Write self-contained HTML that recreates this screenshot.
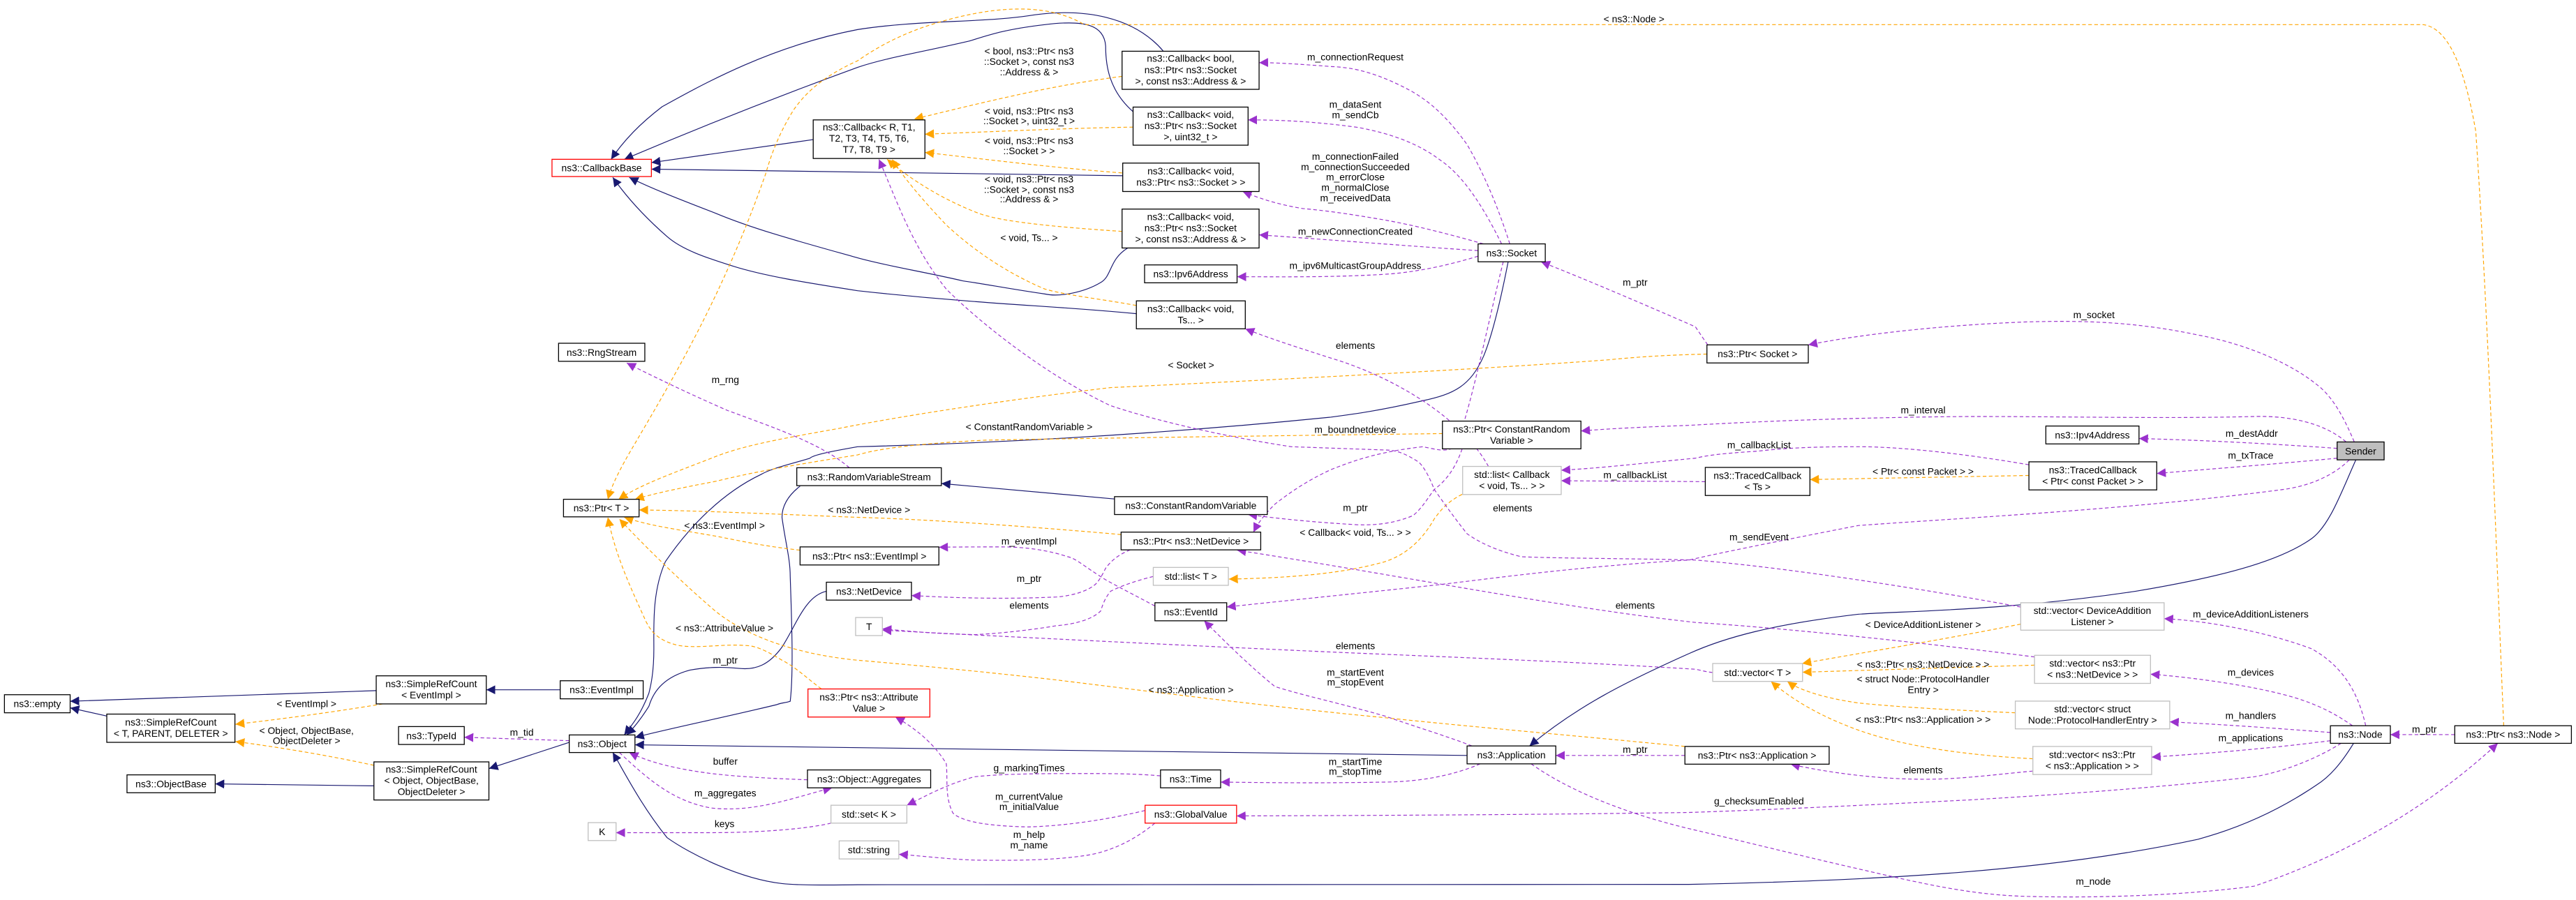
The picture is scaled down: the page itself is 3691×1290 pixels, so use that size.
<!DOCTYPE html>
<html><head><meta charset="utf-8"><style>
html,body{margin:0;padding:0;background:#fff}
svg{display:block}
text{font-family:"Liberation Sans",sans-serif;font-size:5.9px;fill:#000;text-anchor:middle}
.n{fill:#fff;stroke:#000;stroke-width:.55}
.g{fill:#fff;stroke:#bfbfbf;stroke-width:.55}
.r{fill:#fff;stroke:#f00;stroke-width:.55}
.s{fill:#bfbfbf;stroke:#000;stroke-width:.55}
.i{fill:none;stroke:#191970;stroke-width:.5}
.u{fill:none;stroke:#9a32cd;stroke-width:.5;stroke-dasharray:2.2 1.5}
.t{fill:none;stroke:#ffa500;stroke-width:.5;stroke-dasharray:2.2 1.5}
</style></head><body>
<svg width="3691" height="1290" viewBox="0 0 1568 548" preserveAspectRatio="none" xmlns="http://www.w3.org/2000/svg">
<defs>
<marker id="mi" viewBox="0 0 10 10" refX="10" refY="5" markerWidth="5.5" markerHeight="5.5" markerUnits="userSpaceOnUse" orient="auto"><path d="M0,0L10,5L0,10z" fill="#191970"/></marker>
<marker id="mu" viewBox="0 0 10 10" refX="10" refY="5" markerWidth="5.5" markerHeight="5.5" markerUnits="userSpaceOnUse" orient="auto"><path d="M0,0L10,5L0,10z" fill="#9a32cd"/></marker>
<marker id="mt" viewBox="0 0 10 10" refX="10" refY="5" markerWidth="5.5" markerHeight="5.5" markerUnits="userSpaceOnUse" orient="auto"><path d="M0,0L10,5L0,10z" fill="#ffa500"/></marker>
</defs>

<g marker-end="url(#mi)">
<path class="i" d="M495,85 L396.5,99"/>
<path class="i" d="M708,31 C690,10 660,5 630,9 C600,14 560,12 522,18 C470,28 430,50 403,65 C390,75 380,85 372,97"/>
<path class="i" d="M689.7,68 C675,55 673,40 673,28 C672,15 660,12 636,15 C610,18 600,22 590,25 C560,32 540,35 522,41 C470,60 420,80 380,97"/>
<path class="i" d="M683.4,107 L396.5,103"/>
<path class="i" d="M686.4,151 C675,158 677,168 670,172 C660,178 645,181 636,179 C615,176 600,173 586,171 C560,165 540,162 522,157 C490,148 460,140 436,130 C410,120 395,114 383,108"/>
<path class="i" d="M691.7,191 C650,187 620,186 586,183 C560,181 540,179 522,177 C490,172 465,168 446,162 C430,157 415,152 406,144 C390,130 380,118 373,108"/>
<path class="i" d="M918,159.4 C913,185 908,205 903,217 C895,235 885,240 866,244 C840,250 825,252 810,254 C700,265 600,270 522,272 C505,275 495,277 493,279 C480,283 470,285 463,289 C440,300 420,320 405,342 C397,360 398,380 398,395 C398,410 396,418 395,422 C390,435 385,441 380,447.5"/>
<path class="i" d="M487,296 C478,303 476,310 476,315 C478,330 481,340 481,351 C482,380 483,410 481,427 C478,428 475,428 473,429 C440,437 410,443 386.5,449"/>
<path class="i" d="M503,360 C490,363 485,380 476,394 C468,405 460,408 450,407 C440,406 432,406 420,408 C405,412 398,420 395,430 C390,438 386,443 381.5,447.5"/>
<path class="i" d="M341,420 L296,420"/>
<path class="i" d="M229,420.5 L42.7,427"/>
<path class="i" d="M65,436 L42.7,431"/>
<path class="i" d="M346.5,452 L297.6,468"/>
<path class="i" d="M227.6,478.5 L131,477.3"/>
<path class="i" d="M893,460 L386.5,453.5"/>
<path class="i" d="M1432.6,452.6 C1425,465 1418,473 1410,478 C1385,495 1360,505 1338,511 C1250,530 1150,536 1028,538.5 L522,538.7 C500,539 485,539 476,538 C450,535 420,520 406,510 C390,490 380,470 373,458.2"/>
<path class="i" d="M1434,280 C1425,300 1418,320 1407,328 C1390,340 1360,350 1300,360 C1220,372 1160,372 1131,374 C1080,380 1050,388 1028,398 C990,415 960,430 931,454.2"/>
<path class="i" d="M678.4,303.8 L573,294.4"/>
</g>

<g marker-end="url(#mt)">
<path class="t" d="M683,46.5 C640,52 600,62 556.5,72.5"/>
<path class="t" d="M689.7,77.4 C650,78 610,80 563,81.7"/>
<path class="t" d="M683,105.3 C640,102 600,97 563,92.8"/>
<path class="t" d="M683,140.9 C640,138 610,135 596,130 C575,122 555,110 540,97"/>
<path class="t" d="M691.7,186 C670,182 650,180 636,176 C610,165 590,150 576,137 C560,120 550,108 543,97"/>
<path class="t" d="M1524,441.9 C1520,350 1515,200 1507,80 C1500,40 1490,17 1475,15 L660,15 C640,3 610,2 570,14 C550,20 535,28 522,37 C500,47 490,57 483,67 C475,80 470,92 466,106 C440,180 410,230 383,276 C375,290 372,297 370,304"/>
<path class="t" d="M1039,215.6 C1020,216 1000,217 980,219 C900,225 760,232 676,236 C600,245 540,255 510,261 C470,268 450,272 433,279 C410,288 390,295 376.5,304"/>
<path class="t" d="M878,264 C800,265 650,267 600,268 C560,270 535,273 522,277 C490,282 460,287 436,293 C415,297 400,300 386.5,304"/>
<path class="t" d="M682.4,325.5 C620,320 560,316 522,315 C470,313 430,311 389,310.5"/>
<path class="t" d="M487,335 C460,332 445,328 433,326 C410,322 395,320 380,315"/>
<path class="t" d="M500,419.5 C490,412 484,406 476,402 C466,396 460,393 453,393 C440,392 425,395 413,393 C400,390 396,384 393,378 C385,360 375,340 370,315"/>
<path class="t" d="M1025.6,454.5 C960,448 900,443 843,437 C770,430 700,421 643,414 C590,408 545,404 522,402 C480,398 450,385 433,370 C410,350 390,330 377,316"/>
<path class="t" d="M233,428.6 C200,434 170,438 143.3,441"/>
<path class="t" d="M227.6,466 C200,460 170,455 143.3,451.5"/>
<path class="t" d="M890,301 C880,306 876,312 873,316 C865,330 855,338 843,342 C815,350 780,352 748,352.6"/>
<path class="t" d="M1235,289.5 L1101.7,292"/>
<path class="t" d="M1230,380 C1180,390 1130,398 1097,404"/>
<path class="t" d="M1238.4,405 L1097.2,409.3"/>
<path class="t" d="M1226.7,434 C1180,432 1150,430 1131,428 C1110,425 1095,420 1088,415"/>
<path class="t" d="M1237.4,462 C1200,460 1160,455 1131,444.5 C1105,435 1090,425 1078,415"/>
</g>

<g marker-end="url(#mu)">
<path class="u" d="M919,148.5 C910,120 900,100 893,88 C880,70 870,62 860,56 C840,45 825,41 810,40.5 C790,39 775,38 766.4,38.2"/>
<path class="u" d="M914,148.5 C900,120 888,105 876,97 C860,85 840,80 826,77.5 C800,74 780,73 759.7,73"/>
<path class="u" d="M903,148.5 C880,142 860,137 843,134 C820,130 805,128 793,127 C775,124 765,120 756.4,116.6"/>
<path class="u" d="M899.7,152.6 C860,150 810,146 766.4,143"/>
<path class="u" d="M899.7,156 C880,162 860,166 843,167 C810,169 780,168.5 753,168.5"/>
<path class="u" d="M915,159.4 C905,200 895,250 886,272 C880,276 872,273 866,272 C840,275 825,280 810,286 C795,293 785,300 776,307 C770,313 766,318 763,324"/>
<path class="u" d="M1039.5,210 C1036,205 1034,202 1032,199 C1000,185 965,170 938,159.4"/>
<path class="u" d="M906,284 C890,255 850,230 810,218 C785,210 770,205 758,200.2"/>
<path class="u" d="M1230,369.6 C1150,355 1080,345 1032,341 C990,340 950,340 926,339 C910,335 900,330 893,325 C885,315 878,305 873,298 C870,290 866,283 863,281 C855,276 850,274 843,274 L786,272 C740,265 700,255 676,247 C640,230 600,200 576,176 C555,150 545,120 535,97"/>
<path class="u" d="M1238.4,400 C1160,390 1080,382 1032,379 C950,370 850,350 753,335"/>
<path class="u" d="M1433,269 C1425,250 1418,240 1410,234 C1390,218 1360,208 1338,204 C1300,196 1270,195 1234,196 C1180,198 1130,204 1100.7,210"/>
<path class="u" d="M1428,269 C1415,258 1395,253 1372,253.6 C1320,255 1260,253.6 1200,253.6 C1140,254 1080,256 1028,259 C1000,260 980,261 962.3,262.4"/>
<path class="u" d="M1422.6,273 C1380,270 1340,268 1302,267"/>
<path class="u" d="M1422.6,279 C1380,283 1340,286 1312.8,288.3"/>
<path class="u" d="M1235,283 C1200,277 1160,272 1131,272 C1100,272 1085,273 1070,274.7 C1050,276 1040,277 1032,279 C1000,282 975,285 950.3,286.3"/>
<path class="u" d="M1038,293.3 C1010,293 980,293 950.3,292.7"/>
<path class="u" d="M1430,280 C1420,290 1405,296 1390,298 C1300,310 1200,315 1131,320 C1080,330 1050,336 1028,341 C960,345 910,352 876,356 C820,362 780,366 746.7,369.6"/>
<path class="u" d="M896,454.2 C880,448 860,442 843,436 C815,428 795,424 776,418 C760,405 745,390 733,378"/>
<path class="u" d="M901,465.1 C885,472 865,476 843,476.2 C800,477 770,476.5 743,476.2"/>
<path class="u" d="M932,465.1 C960,485 1000,498 1030,505 C1060,512 1100,522 1131,529 C1170,538 1200,545 1234,545.8 C1280,547 1330,545 1372,539.6 C1430,520 1480,490 1520.4,452.6"/>
<path class="u" d="M1025.6,460 L947,460"/>
<path class="u" d="M1237.4,469.5 C1210,472 1190,475 1165,474.4 C1140,474 1110,470 1090,465.3"/>
<path class="u" d="M1440,441.9 C1435,420 1425,405 1407,395 C1380,385 1345,378 1317.3,376.7"/>
<path class="u" d="M1432,441.9 C1415,430 1400,425 1382,421 C1360,416 1330,412 1309,410.5"/>
<path class="u" d="M1418.5,446 C1380,443 1350,441 1320.7,439.5"/>
<path class="u" d="M1418.5,451 C1380,456 1340,459 1309.7,461"/>
<path class="u" d="M1494.2,447.3 L1455,447.3"/>
<path class="u" d="M1425,452.6 C1410,462 1390,470 1372,473 C1310,480 1250,484 1200,487 C1140,490 1080,493 1028,494.7 C940,496 850,496.5 752.7,496.8"/>
<path class="u" d="M697,493.5 C670,500 645,503 626,503.5 C600,503 585,500 580,495 C575,485 577,475 576,465 C570,455 560,445 545,436.6"/>
<path class="u" d="M703,501.2 C690,512 675,519 660,521 C640,524 615,524 593,523.7 C575,523 560,521 547.1,520.2"/>
<path class="u" d="M706.4,472.4 C690,471 675,471 660,471 C640,471 610,471 593,473 C575,478 563,485 552,490.3"/>
<path class="u" d="M505.8,501.2 C490,505 460,507 433,507 C410,507 390,507 375,507"/>
<path class="u" d="M491.5,474.8 C470,474 450,473 433,471 C410,468 395,464 383,458.2"/>
<path class="u" d="M377,458.2 C395,475 410,488 433,492 C460,495 485,485 506.5,479.7"/>
<path class="u" d="M346.5,451 L282.6,448.9"/>
<path class="u" d="M703,369 C690,362 680,357 673,353 C660,345 655,340 650,339 C635,334 620,333 610,333 C595,333 585,333 571.5,333.2"/>
<path class="u" d="M688,334.8 C680,338 676,342 673,346 C670,352 668,355 666,356.4 C660,361 650,363 643,363.5 C610,365 580,364 554.8,362.6"/>
<path class="u" d="M702,351 C690,354 682,357 676,360 C672,365 671,369 670,372 C665,377 655,380 643,381 C625,384 605,386 593,386.4 C570,386 550,384 537.1,382.9"/>
<path class="u" d="M1042.5,409.5 C1038,409 1035,408 1032,407.5 C960,403 880,400 810,397 C700,392 600,387 537.1,383.7"/>
<path class="u" d="M517,284.8 C500,270 470,260 443,250 C420,240 395,228 381.5,221"/>
<path class="u" d="M890,273.3 C886,285 880,293 873,298 C868,305 865,310 860,314 C850,318 840,320 826,319.5 C800,318 780,316 759.7,313.3"/>
</g>

<rect class="r" x="336" y="97" width="60.5" height="10.5"/><text x="366.2" y="104.3">ns3::CallbackBase</text>
<rect class="n" x="495" y="73" width="68" height="23.5"/><text x="529" y="79.5">ns3::Callback&lt; R, T1,</text><text x="529" y="86.3">T2, T3, T4, T5, T6,</text><text x="529" y="93.1">T7, T8, T9 &gt;</text>
<rect class="n" x="340" y="209" width="52.5" height="11"/><text x="366.2" y="216.6">ns3::RngStream</text>
<rect class="n" x="343" y="304" width="46" height="10.7"/><text x="366" y="311.4">ns3::Ptr&lt; T &gt;</text>
<rect class="n" x="229" y="411.5" width="67" height="17.1"/><text x="262.5" y="418.5">ns3::SimpleRefCount</text><text x="262.5" y="425.3">&lt; EventImpl &gt;</text>
<rect class="n" x="341" y="414.5" width="50.5" height="11"/><text x="366.2" y="422.1">ns3::EventImpl</text>
<rect class="n" x="2.7" y="423" width="40" height="11"/><text x="22.7" y="430.6">ns3::empty</text>
<rect class="n" x="65" y="434.8" width="78" height="17.2"/><text x="104" y="441.8">ns3::SimpleRefCount</text><text x="104" y="448.6">&lt; T, PARENT, DELETER &gt;</text>
<rect class="n" x="242.6" y="442.4" width="40" height="10.9"/><text x="262.6" y="450">ns3::TypeId</text>
<rect class="n" x="346.5" y="447.5" width="40" height="10.7"/><text x="366.5" y="454.9">ns3::Object</text>
<rect class="n" x="77.3" y="471.8" width="53.7" height="10.9"/><text x="104.1" y="479.4">ns3::ObjectBase</text>
<rect class="n" x="227.6" y="463.9" width="70" height="23.2"/><text x="262.6" y="470.4">ns3::SimpleRefCount</text><text x="262.6" y="477.2">&lt; Object, ObjectBase,</text><text x="262.6" y="484">ObjectDeleter &gt;</text>
<rect class="g" x="358" y="500.9" width="17" height="10.9"/><text x="366.5" y="508.5">K</text>
<rect class="n" x="683" y="31.2" width="83.4" height="23.2"/><text x="724.7" y="37.7">ns3::Callback&lt; bool,</text><text x="724.7" y="44.5">ns3::Ptr&lt; ns3::Socket</text><text x="724.7" y="51.3">&gt;, const ns3::Address &amp; &gt;</text>
<rect class="n" x="689.7" y="65.2" width="70" height="23.2"/><text x="724.7" y="71.7">ns3::Callback&lt; void,</text><text x="724.7" y="78.5">ns3::Ptr&lt; ns3::Socket</text><text x="724.7" y="85.3">&gt;, uint32_t &gt;</text>
<rect class="n" x="683.4" y="99.3" width="83" height="17.3"/><text x="724.9" y="106.3">ns3::Callback&lt; void,</text><text x="724.9" y="113.1">ns3::Ptr&lt; ns3::Socket &gt; &gt;</text>
<rect class="n" x="683" y="127.3" width="83.4" height="23.7"/><text x="724.7" y="134">ns3::Callback&lt; void,</text><text x="724.7" y="140.8">ns3::Ptr&lt; ns3::Socket</text><text x="724.7" y="147.6">&gt;, const ns3::Address &amp; &gt;</text>
<rect class="n" x="696.7" y="161.3" width="56.3" height="10.9"/><text x="724.8" y="168.9">ns3::Ipv6Address</text>
<rect class="n" x="691.7" y="183.2" width="66.3" height="17"/><text x="724.8" y="190.1">ns3::Callback&lt; void,</text><text x="724.8" y="196.9">Ts... &gt;</text>
<rect class="n" x="899.7" y="148.5" width="40.9" height="10.9"/><text x="920.1" y="156.1">ns3::Socket</text>
<rect class="n" x="878" y="256.4" width="84.3" height="16.9"/><text x="920.1" y="263.3">ns3::Ptr&lt; ConstantRandom</text><text x="920.1" y="270.1">Variable &gt;</text>
<rect class="n" x="485" y="284.8" width="88" height="10.9"/><text x="529" y="292.4">ns3::RandomVariableStream</text>
<rect class="n" x="678.4" y="302.4" width="93" height="10.9"/><text x="724.9" y="310">ns3::ConstantRandomVariable</text>
<rect class="n" x="682.4" y="324" width="85" height="10.8"/><text x="724.9" y="331.5">ns3::Ptr&lt; ns3::NetDevice &gt;</text>
<rect class="n" x="487" y="333" width="84.5" height="11"/><text x="529.2" y="340.6">ns3::Ptr&lt; ns3::EventImpl &gt;</text>
<rect class="n" x="503" y="354.5" width="51.8" height="10.9"/><text x="528.9" y="362.1">ns3::NetDevice</text>
<rect class="g" x="702" y="345.5" width="45.7" height="10.9"/><text x="724.8" y="353.1">std::list&lt; T &gt;</text>
<rect class="n" x="703" y="367" width="43.7" height="11"/><text x="724.8" y="374.6">ns3::EventId</text>
<rect class="g" x="520.8" y="376" width="16.3" height="11"/><text x="529" y="383.6">T</text>
<rect class="r" x="491.8" y="419.5" width="74.2" height="17.1"/><text x="528.9" y="426.5">ns3::Ptr&lt; ns3::Attribute</text><text x="528.9" y="433.3">Value &gt;</text>
<rect class="n" x="491.5" y="468.8" width="75" height="10.9"/><text x="529" y="476.4">ns3::Object::Aggregates</text>
<rect class="g" x="505.8" y="490.3" width="46.2" height="10.9"/><text x="528.9" y="497.9">std::set&lt; K &gt;</text>
<rect class="g" x="510.8" y="512" width="36.3" height="11"/><text x="528.9" y="519.6">std::string</text>
<rect class="n" x="706.4" y="468.8" width="36.6" height="10.9"/><text x="724.7" y="476.4">ns3::Time</text>
<rect class="r" x="697" y="490.3" width="55.7" height="10.9"/><text x="724.8" y="497.9">ns3::GlobalValue</text>
<rect class="n" x="893" y="454.2" width="54" height="10.9"/><text x="920" y="461.8">ns3::Application</text>
<rect class="g" x="890.3" y="284" width="60" height="17.1"/><text x="920.3" y="291">std::list&lt; Callback</text><text x="920.3" y="297.8">&lt; void, Ts... &gt; &gt;</text>
<rect class="n" x="1039" y="210" width="61.7" height="11"/><text x="1069.8" y="217.6">ns3::Ptr&lt; Socket &gt;</text>
<rect class="n" x="1245.3" y="259.4" width="56.7" height="10.9"/><text x="1273.6" y="267">ns3::Ipv4Address</text>
<rect class="s" x="1422.6" y="269.1" width="28.6" height="10.9"/><text x="1436.9" y="276.7">Sender</text>
<rect class="n" x="1038" y="284.6" width="63.7" height="17.1"/><text x="1069.8" y="291.6">ns3::TracedCallback</text><text x="1069.8" y="298.4">&lt; Ts &gt;</text>
<rect class="n" x="1235" y="281.2" width="77.8" height="17.1"/><text x="1273.9" y="288.2">ns3::TracedCallback</text><text x="1273.9" y="295">&lt; Ptr&lt; const Packet &gt; &gt;</text>
<rect class="g" x="1230" y="367" width="87.3" height="16.7"/><text x="1273.6" y="373.8">std::vector&lt; DeviceAddition</text><text x="1273.6" y="380.6">Listener &gt;</text>
<rect class="g" x="1042.5" y="404" width="54.7" height="10.9"/><text x="1069.8" y="411.6">std::vector&lt; T &gt;</text>
<rect class="g" x="1238.4" y="399" width="70.6" height="17.1"/><text x="1273.7" y="406">std::vector&lt; ns3::Ptr</text><text x="1273.7" y="412.8">&lt; ns3::NetDevice &gt; &gt;</text>
<rect class="g" x="1226.7" y="426.9" width="94" height="16.9"/><text x="1273.7" y="433.8">std::vector&lt; struct</text><text x="1273.7" y="440.6">Node::ProtocolHandlerEntry &gt;</text>
<rect class="g" x="1237.4" y="454.5" width="72.3" height="17.1"/><text x="1273.5" y="461.5">std::vector&lt; ns3::Ptr</text><text x="1273.5" y="468.3">&lt; ns3::Application &gt; &gt;</text>
<rect class="n" x="1025.6" y="454.5" width="87.8" height="10.8"/><text x="1069.5" y="462">ns3::Ptr&lt; ns3::Application &gt;</text>
<rect class="n" x="1418.5" y="441.9" width="36.5" height="10.7"/><text x="1436.7" y="449.3">ns3::Node</text>
<rect class="n" x="1494.2" y="441.9" width="71" height="10.7"/><text x="1529.7" y="449.3">ns3::Ptr&lt; ns3::Node &gt;</text>

<g>
<text x="994.6" y="13.6">&lt; ns3::Node &gt;</text>
<text x="825" y="36.7">m_connectionRequest</text>
<text x="626.4" y="33.2">&lt; bool, ns3::Ptr&lt; ns3</text>
<text x="626.4" y="39.5">::Socket &gt;, const ns3</text>
<text x="626.4" y="45.9">::Address &amp; &gt;</text>
<text x="626.4" y="69.6">&lt; void, ns3::Ptr&lt; ns3</text>
<text x="626.4" y="75.6">::Socket &gt;, uint32_t &gt;</text>
<text x="626.4" y="87.8">&lt; void, ns3::Ptr&lt; ns3</text>
<text x="626.4" y="93.8">::Socket &gt; &gt;</text>
<text x="626.4" y="111">&lt; void, ns3::Ptr&lt; ns3</text>
<text x="626.4" y="117.4">::Socket &gt;, const ns3</text>
<text x="626.4" y="123.3">::Address &amp; &gt;</text>
<text x="626.4" y="146.8">&lt; void, Ts... &gt;</text>
<text x="825" y="65.6">m_dataSent</text>
<text x="825" y="71.9">m_sendCb</text>
<text x="825" y="97.3">m_connectionFailed</text>
<text x="825" y="103.6">m_connectionSucceeded</text>
<text x="825" y="109.8">m_errorClose</text>
<text x="825" y="116.1">m_normalClose</text>
<text x="825" y="122.5">m_receivedData</text>
<text x="825" y="142.9">m_newConnectionCreated</text>
<text x="825" y="163.7">m_ipv6MulticastGroupAddress</text>
<text x="995.3" y="174">m_ptr</text>
<text x="825" y="212.5">elements</text>
<text x="725" y="224.3">&lt; Socket &gt;</text>
<text x="626.4" y="262">&lt; ConstantRandomVariable &gt;</text>
<text x="825" y="263.5">m_boundnetdevice</text>
<text x="441.5" y="233.2">m_rng</text>
<text x="529" y="312.5">&lt; ns3::NetDevice &gt;</text>
<text x="441" y="322">&lt; ns3::EventImpl &gt;</text>
<text x="441" y="384.5">&lt; ns3::AttributeValue &gt;</text>
<text x="441.5" y="404">m_ptr</text>
<text x="186.6" y="430.6">&lt; EventImpl &gt;</text>
<text x="186.6" y="447">&lt; Object, ObjectBase,</text>
<text x="186.6" y="453">ObjectDeleter &gt;</text>
<text x="317.6" y="448">m_tid</text>
<text x="441.5" y="465.5">buffer</text>
<text x="441.5" y="484.9">m_aggregates</text>
<text x="441" y="503.7">keys</text>
<text x="626.4" y="331.5">m_eventImpl</text>
<text x="626.4" y="354.2">m_ptr</text>
<text x="626.4" y="370.6">elements</text>
<text x="825" y="311.2">m_ptr</text>
<text x="825" y="326.2">&lt; Callback&lt; void, Ts... &gt; &gt;</text>
<text x="920.7" y="311.4">elements</text>
<text x="995.3" y="291.2">m_callbackList</text>
<text x="995.3" y="370.6">elements</text>
<text x="825" y="395.2">elements</text>
<text x="825" y="411.5">m_startEvent</text>
<text x="825" y="417.4">m_stopEvent</text>
<text x="725" y="422">&lt; ns3::Application &gt;</text>
<text x="995.3" y="458.3">m_ptr</text>
<text x="626.4" y="469.6">g_markingTimes</text>
<text x="825" y="465.7">m_startTime</text>
<text x="825" y="471.7">m_stopTime</text>
<text x="626.4" y="487">m_currentValue</text>
<text x="626.4" y="493.3">m_initialValue</text>
<text x="626.4" y="510.3">m_help</text>
<text x="626.4" y="516.6">m_name</text>
<text x="1274.6" y="193.8">m_socket</text>
<text x="1170.6" y="251.6">m_interval</text>
<text x="1370.6" y="266">m_destAddr</text>
<text x="1070.7" y="272.9">m_callbackList</text>
<text x="1370" y="279.4">m_txTrace</text>
<text x="1170.6" y="289">&lt; Ptr&lt; const Packet &gt; &gt;</text>
<text x="1070.7" y="329">m_sendEvent</text>
<text x="1370" y="376">m_deviceAdditionListeners</text>
<text x="1170.6" y="382.4">&lt; DeviceAdditionListener &gt;</text>
<text x="1170.6" y="406.5">&lt; ns3::Ptr&lt; ns3::NetDevice &gt; &gt;</text>
<text x="1170.6" y="415.5">&lt; struct Node::ProtocolHandler</text>
<text x="1170.6" y="422">Entry &gt;</text>
<text x="1370" y="411.5">m_devices</text>
<text x="1370" y="437.7">m_handlers</text>
<text x="1370" y="451.4">m_applications</text>
<text x="1475.7" y="446">m_ptr</text>
<text x="1170.6" y="440.2">&lt; ns3::Ptr&lt; ns3::Application &gt; &gt;</text>
<text x="1170.6" y="470.8">elements</text>
<text x="1070.7" y="489.8">g_checksumEnabled</text>
<text x="1274.2" y="538.6">m_node</text>
</g>
</svg>
</body></html>
